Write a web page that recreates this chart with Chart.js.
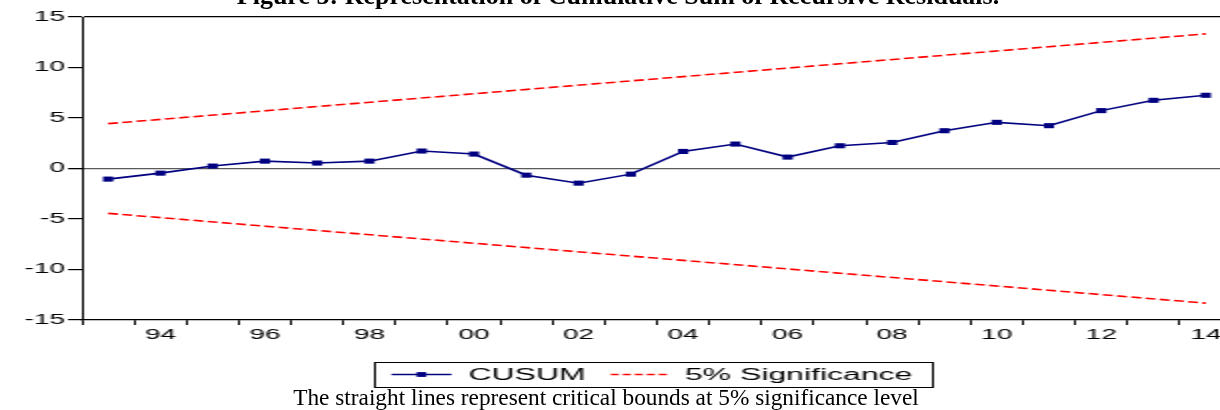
<!DOCTYPE html>
<html>
<head>
<meta charset="utf-8">
<script src="https://cdn.jsdelivr.net/npm/chart.js@4.4.1/dist/chart.umd.min.js"></script>
<style>
  html, body { margin: 0; padding: 0; background: #fff; overflow: hidden; width: 1220px; height: 410px; }
  #wrap { position: absolute; left: 0; top: 0; width: 620px; height: 410px; transform: scaleX(2); transform-origin: 0 0; }
  #title { position: absolute; left: 8px; top: -17px; width: 1220px; text-align: center; white-space: nowrap;
           font: bold 26px/26px "Liberation Serif", "Times New Roman", serif; color: #000; }
  #caption { position: absolute; left: -4px; top: 386px; width: 1220px; text-align: center; white-space: nowrap;
             font: 23.3px/23px "Liberation Serif", "Times New Roman", serif; color: #000; }
</style>
</head>
<body>
<div id="wrap"><canvas id="c"></canvas></div>
<div id="title">Figure 5: Representation of Cumulative Sum of Recursive Residuals.</div>
<div id="caption">The straight lines represent critical bounds at 5% significance level</div>
<script>
// ---- data ----
const years = ['1993','1994','1995','1996','1997','1998','1999','2000','2001','2002','2003',
               '2004','2005','2006','2007','2008','2009','2010','2011','2012','2013','2014'];
const xTickLabels = ['', '94', '', '96', '', '98', '', '00', '', '02', '',
                     '04', '', '06', '', '08', '', '10', '', '12', '', '14'];
const cusum = [-1.05, -0.46, 0.24, 0.73, 0.54, 0.73, 1.73, 1.43, -0.66, -1.45, -0.56,
               1.69, 2.42, 1.13, 2.25, 2.58, 3.74, 4.57, 4.24, 5.73, 6.75, 7.25];
// straight critical bounds: endpoints, joined by the library (spanGaps)
const upperBound = [4.44, null, null, null, null, null, null, null, null, null, null,
                    null, null, null, null, null, null, null, null, null, null, 13.33];
const lowerBound = [-4.44, null, null, null, null, null, null, null, null, null, null,
                    null, null, null, null, null, null, null, null, null, null, -13.33];
const yMin = -15, yMax = 15, yStep = 5;
const legendLabels = ['CUSUM', '5% Significance'];

const NAVY = '#000080', RED = '#ff0000';
const SANS = '"Liberation Sans", Arial, Helvetica, sans-serif';

const legendBox = {
  id: 'legendBox',
  afterDraw(chart) {
    const ctx = chart.ctx, ca = chart.chartArea;
    ctx.save();
    ctx.font = '16px ' + SANS;
    const w1 = ctx.measureText(legendLabels[0]).width;
    const w2 = ctx.measureText(legendLabels[1]).width;
    const padL = 9, sample = 30, gapT = 8.5, gapI = 12.5, padR = 7.5;
    const total = padL + sample + gapT + w1 + gapI + sample + gapT + w2 + padR;
    const cx = (ca.left + ca.right) / 2 - 2.5;
    const left = cx - total / 2, top = 362, h = 25, mid = top + h / 2;
    ctx.strokeStyle = '#000'; ctx.lineWidth = 1;
    ctx.strokeRect(Math.round(left) + 0.5, top + 0.5, Math.round(total), h);
    let x = left + padL;
    // CUSUM sample
    ctx.strokeStyle = NAVY; ctx.lineWidth = 1.5;
    ctx.beginPath(); ctx.moveTo(x, mid); ctx.lineTo(x + sample, mid); ctx.stroke();
    ctx.fillStyle = NAVY; ctx.fillRect(x + sample / 2 - 2.4, mid - 2.4, 4.8, 4.8);
    x += sample + gapT;
    ctx.fillStyle = '#000'; ctx.textBaseline = 'middle'; ctx.textAlign = 'left';
    ctx.fillText(legendLabels[0], x, mid + 1);
    x += w1 + gapI;
    // significance sample
    ctx.strokeStyle = RED; ctx.lineWidth = 1.4; ctx.setLineDash([4, 2]);
    ctx.beginPath(); ctx.moveTo(x, mid); ctx.lineTo(x + sample, mid); ctx.stroke();
    ctx.setLineDash([]);
    x += sample + gapT - 1.5;
    ctx.fillText(legendLabels[1], x, mid + 1);
    ctx.restore();
  }
};

new Chart(document.getElementById('c'), {
  type: 'line',
  data: {
    labels: years,
    datasets: [
      { label: legendLabels[0], data: cusum, borderColor: NAVY, backgroundColor: NAVY, borderWidth: 1.6,
        pointStyle: 'rect', pointRadius: 3.6, pointBorderWidth: 0, pointBackgroundColor: NAVY, tension: 0 },
      { label: legendLabels[1], data: upperBound, borderColor: RED, borderWidth: 1.6, borderDash: [5, 2.2],
        pointRadius: 0, spanGaps: true, tension: 0 },
      { label: legendLabels[1] + ' (lower)', data: lowerBound, borderColor: RED, borderWidth: 1.6, borderDash: [5, 2.2],
        pointRadius: 0, spanGaps: true, tension: 0 }
    ]
  },
  options: {
    responsive: true, maintainAspectRatio: false, animation: false, devicePixelRatio: 1,
    layout: { padding: { left: 0, right: 2.5, top: 17, bottom: 0 } },
    plugins: { legend: { display: false }, tooltip: { enabled: false }, title: { display: false } },
    scales: {
      x: {
        type: 'category', offset: true,
        grid: { offset: true, drawOnChartArea: false, drawTicks: true, tickLength: 5, tickColor: '#000', tickWidth: 1 },
        border: { color: '#000', width: 1.2 },
        ticks: { autoSkip: false, maxRotation: 0, minRotation: 0, padding: 2, color: '#000',
                 font: { family: SANS, size: 14 }, callback: (v, i) => xTickLabels[i] },
        afterFit: s => { s.height = 90; }
      },
      y: {
        min: yMin, max: yMax,
        ticks: { stepSize: yStep, padding: 1.5, color: '#000', font: { family: SANS, size: 14 } },
        grid: {
          color: c => (c.tick && c.tick.value === 0) ? '#5a5a5a' : (c.tick && c.tick.value === yMax ? '#000' : 'rgba(0,0,0,0)'),
          lineWidth: c => (c.tick && c.tick.value === 0) ? 1.3 : 1.2,
          tickColor: '#000', tickLength: 7, drawTicks: true
        },
        border: { color: '#000', width: 1 },
        afterFit: s => { s.width = 41; }
      }
    }
  },
  plugins: [legendBox]
});
</script>
</body>
</html>
